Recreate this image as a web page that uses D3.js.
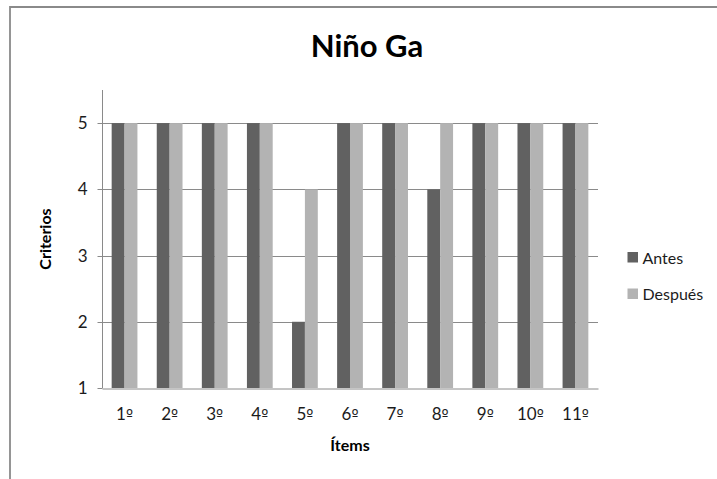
<!DOCTYPE html>
<html>
<head>
<meta charset="utf-8">
<script src="https://cdn.jsdelivr.net/npm/d3@7"></script>
<style>
  html, body { margin: 0; padding: 0; background: #fff; }
  svg { display: block; }
  text { font-family: Lato, "Open Sans", sans-serif; }
</style>
</head>
<body>
<svg id="chart" width="717" height="479"></svg>
<script>
// Chart data
const title = "Niño Ga";
const items = ["1º", "2º", "3º", "4º", "5º", "6º", "7º", "8º", "9º", "10º", "11º"];
const seriesNames = ["Antes", "Después"];
const antes = [5, 5, 5, 5, 2, 5, 5, 4, 5, 5, 5];
const despues = [5, 5, 5, 5, 4, 5, 5, 5, 5, 5, 5];
const yTicks = [1, 2, 3, 4, 5];
const xTitle = "Ítems";
const yTitle = "Criterios";

const seriesValues = [antes, despues];
const colors = ["#616161", "#b3b3b3"];
const axisColor = "#8a8a8a";
const textColor = "#1c1c1c";

const svg = d3.select("#chart");
const W = 717, H = 479;
const plot = { left: 102, right: 598, top: 90, bottom: 388 };

// outer chart frame (cut off at the right and bottom edges)
svg.append("path")
  .attr("d", `M10,${H + 5} L10,7 L${W + 5},7`)
  .attr("fill", "none")
  .attr("stroke", axisColor)
  .attr("stroke-width", 1.8);

// scales
const x0 = d3.scaleBand().domain(items).range([plot.left, plot.right]).paddingInner(0).paddingOuter(0);
const x1 = d3.scaleBand().domain(seriesNames).range([0, x0.bandwidth()]).paddingInner(0).paddingOuter(0.75);
const y = d3.scaleLinear().domain([1, 5.5]).range([plot.bottom, plot.top]);

// horizontal gridlines
svg.append("g")
  .selectAll("line")
  .data(yTicks.filter(t => t > 1))
  .join("line")
  .attr("x1", plot.left).attr("x2", plot.right)
  .attr("y1", d => Math.round(y(d)) + 0.5).attr("y2", d => Math.round(y(d)) + 0.5)
  .attr("stroke", axisColor).attr("stroke-width", 1);

// y axis
const yAxis = d3.axisLeft(y).tickValues(yTicks).tickSize(5).tickPadding(10).tickFormat(d3.format("d"));
const gy = svg.append("g").attr("transform", `translate(${plot.left + 0.5},0)`).call(yAxis);
gy.select(".domain").attr("stroke", axisColor).attr("d", `M-0,${plot.top}V${plot.bottom}`);
gy.selectAll(".tick line").attr("stroke", axisColor);
gy.selectAll(".tick").attr("transform", d => `translate(0,${Math.round(y(d)) + 0.5})`);
gy.selectAll(".tick text")
  .attr("fill", textColor)
  .style("font-family", "Lato, sans-serif")
  .style("font-size", "17px");

// bars
const groups = svg.append("g")
  .selectAll("g")
  .data(items)
  .join("g")
  .attr("transform", d => `translate(${x0(d)},0)`);

groups.selectAll("rect")
  .data((d, i) => seriesNames.map((s, k) => ({ s, v: seriesValues[k][i], k })))
  .join("rect")
  .attr("x", d => x1(d.s))
  .attr("width", x1.bandwidth())
  .attr("y", d => y(d.v))
  .attr("height", d => y(1) - y(d.v))
  .attr("fill", d => colors[d.k]);

// x axis
const xAxis = d3.axisBottom(x0).tickSize(0).tickPadding(19);
const gx = svg.append("g").attr("transform", `translate(0,${Math.round(plot.bottom) + 0.5})`).call(xAxis);
gx.select(".domain").attr("stroke", axisColor);
gx.selectAll(".tick text")
  .attr("fill", textColor)
  .style("font-family", "Lato, sans-serif")
  .style("font-size", "17px")
  .each(function (d) {
    // ordinal indicator drawn with an underlined glyph
    const t = d3.select(this);
    const num = d.replace("º", "");
    t.text(null);
    t.append("tspan").text(num);
    t.append("tspan").style("font-family", "'DejaVu Sans', sans-serif").style("font-size", "15px").text("º");
  });

// title
svg.append("text")
  .attr("x", 367).attr("y", 57)
  .attr("text-anchor", "middle")
  .style("font-size", "31px").style("font-weight", "bold")
  .attr("fill", "#000")
  .text(title);

// axis titles
svg.append("text")
  .attr("x", (plot.left + plot.right) / 2).attr("y", 451)
  .attr("text-anchor", "middle")
  .style("font-size", "16px").style("font-weight", "bold")
  .attr("fill", "#000")
  .text(xTitle);

svg.append("text")
  .attr("transform", `translate(51,${(plot.top + plot.bottom) / 2}) rotate(-90)`)
  .attr("text-anchor", "middle")
  .style("font-size", "16px").style("font-weight", "bold")
  .attr("fill", "#000")
  .text(yTitle);

// legend
const legendY = [257.5, 294];
const legend = svg.append("g")
  .selectAll("g")
  .data(seriesNames)
  .join("g")
  .attr("transform", (d, i) => `translate(627.5,${legendY[i]})`);
legend.append("rect")
  .attr("x", 0).attr("y", -5.5)
  .attr("width", 10.5).attr("height", 10.5)
  .attr("fill", (d, i) => colors[i]);
legend.append("text")
  .attr("x", 15).attr("y", 6)
  .style("font-size", "16px")
  .attr("fill", textColor)
  .text(d => d);
</script>
</body>
</html>
